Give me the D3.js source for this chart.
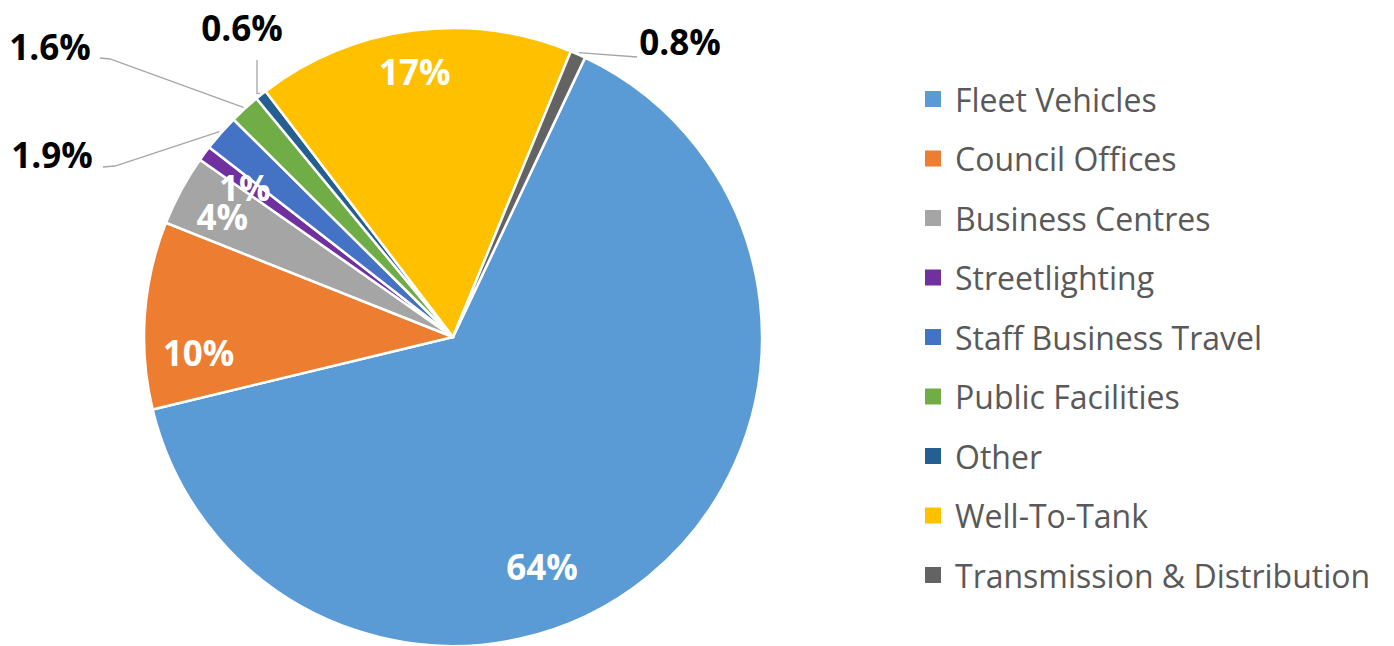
<!DOCTYPE html>
<meta charset="utf-8">
<head>
    <title>Emissions by source</title>
    <script type="text/javascript" src="https://cdn.jsdelivr.net/npm/d3@7"></script>
    <style>
        body { margin: 0; background: #fff; }
        svg { display: block; }
    </style>
</head>
<body>
    <svg></svg>
    <script>
        // data
        var categories = ["Fleet Vehicles", "Council Offices", "Business Centres", "Streetlighting",
            "Staff Business Travel", "Public Facilities", "Other", "Well-To-Tank", "Transmission & Distribution"];
        var values = [64.2, 9.8, 3.7, 0.8, 1.9, 1.6, 0.6, 16.6, 0.8];
        var labels = ["64%", "10%", "4%", "1%", "1.9%", "1.6%", "0.6%", "17%", "0.8%"];
        var colors = ["#5b9bd5", "#ed7d31", "#a5a5a5", "#7030a0", "#4472c4", "#70ad47", "#255e91", "#ffc000", "#636363"];

        var w = 1394, h = 646;
        var cx = 453, cy = 337, r = 309;
        var startDeg = 25.3;

        var svg = d3.select("svg").attr("width", w).attr("height", h);

        var rad = function (deg) { return deg * Math.PI / 180; };
        // point at angle (deg clockwise from north) and radius, relative to pie centre
        var polar = function (deg, rr) { return [rr * Math.sin(rad(deg)), -rr * Math.cos(rad(deg))]; };

        var pie = d3.pie().sort(null)
            .startAngle(rad(startDeg))
            .endAngle(rad(startDeg) + 2 * Math.PI);
        var arcs = pie(values);

        var arc = d3.arc().innerRadius(0).outerRadius(r);

        var g = svg.append("g").attr("transform", "translate(" + cx + "," + cy + ")");

        g.selectAll("path.slice")
            .data(arcs)
            .enter().append("path")
            .attr("class", "slice")
            .attr("d", arc)
            .attr("fill", function (d, i) { return colors[i]; })
            .attr("stroke", "#fff")
            .attr("stroke-width", 2.5)
            .attr("stroke-linejoin", "round");

        // label placement: inside labels as [angle, radius], outside ones with a leader line
        var inside = { 0: [158.8, 246], 1: [266.6, 255], 2: [297.5, 260], 3: [305.6, 256], 7: [351.8, 268] };
        var outside = {
            4: { x: 52 - cx, y: 154 - cy, line: [[115 - cx, 166 - cy], [103 - cx, 167 - cy]] },
            5: { x: 50 - cx, y: 46 - cy, line: [[110 - cx, 59 - cy], [100 - cx, 58 - cy]] },
            6: { x: 242 - cx, y: 27 - cy, line: [[257 - cx, 60 - cy]], vertical: true },
            8: { x: 680 - cx, y: 41 - cy, line: [[637 - cx, 57 - cy]] }
        };

        var midDeg = function (d) { return ((d.startAngle + d.endAngle) / 2) * 180 / Math.PI; };

        arcs.forEach(function (d, i) {
            if (inside[i]) {
                var p = polar(inside[i][0], inside[i][1]);
                g.append("text")
                    .attr("x", p[0]).attr("y", p[1])
                    .attr("text-anchor", "middle")
                    .attr("dominant-baseline", "central")
                    .style("font-family", "'Open Sans', sans-serif")
                    .style("font-weight", "bold")
                    .style("font-size", "35px")
                    .attr("fill", "#fff")
                    .text(labels[i]);
            } else {
                var o = outside[i];
                var s = polar(midDeg(d), r + 2);
                var pts = [s];
                if (o.vertical) pts.push([o.line[0][0], s[1]]);
                pts = pts.concat(o.line);
                g.append("path")
                    .attr("d", d3.line()(pts))
                    .attr("fill", "none")
                    .attr("stroke", "#a6a6a6")
                    .attr("stroke-width", 1.3);
                g.append("text")
                    .attr("x", o.x).attr("y", o.y)
                    .attr("text-anchor", "middle")
                    .attr("dominant-baseline", "central")
                    .style("font-family", "'Open Sans', sans-serif")
                    .style("font-weight", "bold")
                    .style("font-size", "35px")
                    .attr("fill", "#000")
                    .text(labels[i]);
            }
        });

        // legend
        var ly = d3.scalePoint().domain(categories).range([99, 575]);
        var legend = svg.append("g").attr("id", "legend");
        var item = legend.selectAll("g")
            .data(categories)
            .enter().append("g")
            .attr("transform", function (d) { return "translate(925," + ly(d) + ")"; });
        item.append("rect")
            .attr("x", 0).attr("y", -8)
            .attr("width", 16).attr("height", 16)
            .attr("fill", function (d, i) { return colors[i]; });
        item.append("text")
            .attr("x", 30).attr("y", 0)
            .attr("dominant-baseline", "central")
            .style("font-family", "'Open Sans', sans-serif")
            .style("font-size", "32px")
            .attr("fill", "#595959")
            .text(function (d) { return d; });
    </script>
</body>
</html>
